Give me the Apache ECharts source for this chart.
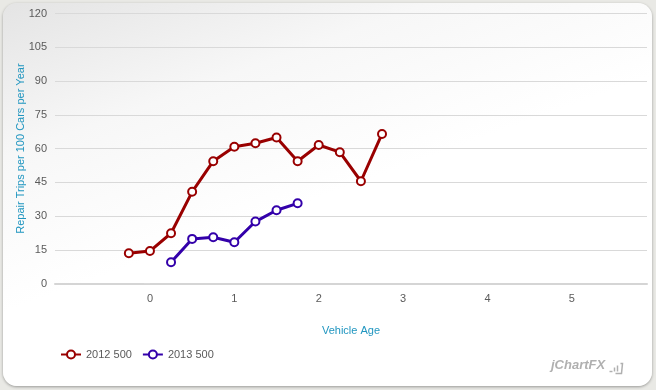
<!DOCTYPE html>
<html><head><meta charset="utf-8">
<script src="https://cdn.jsdelivr.net/npm/echarts@6/dist/echarts.min.js"></script>
<style>
html,body{margin:0;padding:0;background:#e9e9e5;width:656px;height:390px;overflow:hidden;}
#card{position:absolute;left:3px;top:3px;width:649px;height:383px;border-radius:14px;
background:linear-gradient(160deg,#e4e4e4 0%,#f7f7f7 25%,#ffffff 50%);box-shadow:0 1px 3px rgba(0,0,0,0.35);}
#chart{position:absolute;left:0;top:0;width:656px;height:390px;}
</style></head>
<body><div id="card"></div><div id="chart"></div>
<script>
const xTicks = [0, 1, 2, 3, 4, 5];
const ages2012 = [-0.25, 0, 0.25, 0.5, 0.75, 1, 1.25, 1.5, 1.75, 2, 2.25, 2.5, 2.75];
const vals2012 = [13.5, 14.5, 22.4, 40.8, 54.4, 60.8, 62.4, 64.9, 54.4, 61.6, 58.4, 45.5, 66.5];
const ages2013 = [0.25, 0.5, 0.75, 1, 1.25, 1.5, 1.75];
const vals2013 = [9.5, 19.9, 20.6, 18.4, 27.6, 32.6, 35.7];
const seriesNames = ['2012 500', '2013 500'];
const colors = ['#990000', '#3300aa'];

const chart = echarts.init(document.getElementById('chart'));
const font = 'Liberation Sans, Arial, sans-serif';
function mk(name, xs, ys, c){
  return {name, type:'line', data: xs.map((x,i)=>[x, ys[i]]), symbol:'circle', symbolSize:8,
    lineStyle:{color:c,width:3}, itemStyle:{color:'#fff',borderColor:c,borderWidth:2}, color:c};
}
chart.setOption({
  animation:false,
  textStyle:{fontFamily:font},
  grid:{left:55,right:9,top:13.5,bottom:106.3},
  xAxis:{type:'value',min:-1.125,max:5.89,
    name:'Vehicle Age',nameLocation:'middle',nameGap:42,
    nameTextStyle:{color:'#2196c0',fontSize:11,fontFamily:font},
    axisLine:{show:true,lineStyle:{color:'#d5d5d5',width:2}},
    axisTick:{show:false},splitLine:{show:false},
    axisLabel:{customValues:xTicks,color:'#5a5a5a',fontSize:11,margin:10,fontFamily:font}},
  yAxis:{type:'value',min:0,max:120,interval:15,
    name:'Repair Trips per 100 Cars per Year',nameLocation:'middle',nameGap:29,nameMoveOverlap:false,
    nameTextStyle:{color:'#2196c0',fontSize:11,fontFamily:font},
    axisLine:{show:false},
    axisTick:{show:true,length:6,lineStyle:{color:'#d9d9d9'}},
    splitLine:{lineStyle:{color:'#d9d9d9',width:1}},
    axisLabel:{color:'#5a5a5a',fontSize:11,margin:8,fontFamily:font}},
  legend:{left:55,top:344,itemWidth:20,itemHeight:10,itemGap:10,
    textStyle:{color:'#5a5a5a',fontSize:11,fontFamily:font},
    data:seriesNames},
  graphic:[{type:'text',left:551,top:359,style:{text:'jChartFX',fill:'#b0b0b0',font:'italic bold 13px '+font}},
    {type:'group',left:607,top:361,children:[
      {type:'polyline',shape:{points:[[0,8],[3,8]]},style:{stroke:'#b0b0b0',lineWidth:1.5}},
      {type:'polyline',shape:{points:[[5,8],[5,4]]},style:{stroke:'#b0b0b0',lineWidth:1.5}},
      {type:'polyline',shape:{points:[[8,8],[8,2]]},style:{stroke:'#b0b0b0',lineWidth:1.5}},
      {type:'polyline',shape:{points:[[11,0],[13,0],[12,10],[6,10]]},style:{stroke:'#b0b0b0',lineWidth:1.5,fill:null}}
    ]}],
  series:[mk(seriesNames[0],ages2012,vals2012,colors[0]), mk(seriesNames[1],ages2013,vals2013,colors[1])]
});
</script></body></html>
